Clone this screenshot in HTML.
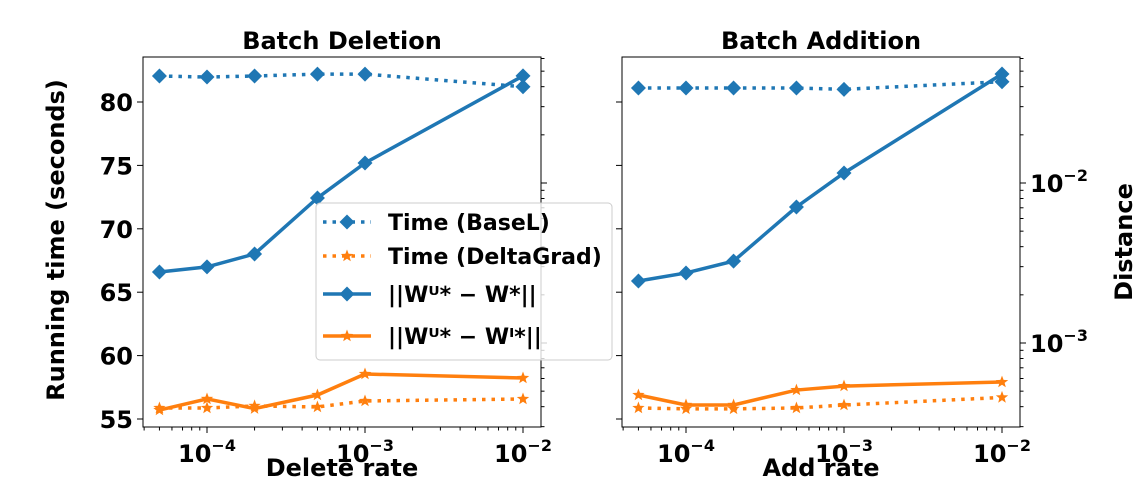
<!DOCTYPE html>
<html><head><meta charset="utf-8"><style>
body{margin:0;background:#fff;}
svg{font-family:"DejaVu Sans","Liberation Sans",sans-serif;font-weight:bold;}
</style></head><body>
<svg id="c" width="1133" height="480" viewBox="0 0 1133 480"></svg>
<script>
const rates=[5e-5,1e-4,2e-4,5e-4,1e-3,1e-2];
const delTimeBase=[82.05,81.97,82.05,82.2,82.2,81.2];
const delTimeDelta=[55.87,55.87,56.03,55.95,56.42,56.58];
const delDistU=[0.00278,0.00299,0.0036,0.00806,0.01334,0.0467];
const delDistI=[0.000381,0.000447,0.000389,0.000473,0.00064,0.000604];
const addTimeBase=[81.1,81.1,81.1,81.1,81.0,81.6];
const addTimeDelta=[55.87,55.8,55.8,55.87,56.1,56.7];
const addDistU=[0.00244,0.00274,0.00325,0.00708,0.01155,0.048];
const addDistI=[0.000473,0.00041,0.00041,0.000508,0.000538,0.00057];
const timeTicks=[55,60,65,70,75,80];
const distTicks=[0.001,0.01];
const xTicks=[1e-4,1e-3,1e-2];
const NS='http://www.w3.org/2000/svg';
const svg=document.getElementById('c');
function el(t,a,p){const e=document.createElementNS(NS,t);for(const k in a)e.setAttribute(k,a[k]);(p||svg).appendChild(e);return e;}
const Y0=57,Y1=427;
function yT(v){return 419-(v-55)*12.68;}
function yD(v){return 183-(Math.log10(v)+2)*160;}
const BLUE='#1f77b4',ORG='#ff7f0e';
function diamond(g,x,y,c){const e=el('path',{d:`M${x} ${y-7.5}L${x+7.5} ${y}L${x} ${y+7.5}L${x-7.5} ${y}Z`,fill:c},g);}
function star(g,x,y,c){let d='';for(let i=0;i<10;i++){const r=i%2?2.7:6.5,a=-Math.PI/2+i*Math.PI/5;d+=(i?'L':'M')+(x+r*Math.cos(a)).toFixed(1)+' '+(y+r*Math.sin(a)).toFixed(1);}const e=el('path',{d:d+'Z',fill:c},g);}
function series(g,name,xs,vals,yf,col,dash,mk){
  const s=el('g',{},g);
  const pts=vals.map((v,i)=>[xs(rates[i]),yf(v)]);
  el('polyline',{points:pts.map(p=>p.join(',')).join(' '),fill:'none',stroke:col,'stroke-width':3.5,'stroke-dasharray':dash||'none'},s);
  pts.forEach(p=>mk(s,p[0],p[1],col));
}
function panel(x0,x1,dec4,title,xlabel,tb,td,du,di,showLeft,showRight,pname){
  const g=el('g',{});
  const xs=v=>dec4+(Math.log10(v)+4)*158;
  el('rect',{x:x0,y:Y0,width:x1-x0,height:Y1-Y0,fill:'none',stroke:'#000','stroke-width':1},g);
  const t=el('text',{x:(x0+x1)/2,y:49,'text-anchor':'middle','font-size':24},g);t.textContent=title;
  const xl=el('text',{x:(x0+x1)/2,y:476,'text-anchor':'middle','font-size':24},g);xl.textContent=xlabel;
  xTicks.forEach(v=>{const x=xs(v);el('line',{x1:x,x2:x,y1:Y1,y2:Y1+6,stroke:'#000'},g);
    const tx=el('text',{x:x,y:462,'text-anchor':'middle','font-size':24},g);
    tx.textContent='10';const sp=el('tspan',{dy:-11,'font-size':16},tx);sp.textContent=String(Math.round(Math.log10(v))).replace('-','\u2212');});
  for(let d=-5;d<=-2;d++)for(let m=2;m<10;m++){const v=m*Math.pow(10,d);const x=xs(v);if(x>x0&&x<x1)el('line',{x1:x,x2:x,y1:Y1,y2:Y1+3.5,stroke:'#000'},g);}
  timeTicks.forEach(v=>{const y=yT(v);el('line',{x1:x0-6,x2:x0,y1:y,y2:y,stroke:'#000'},g);
    if(showLeft){const tx=el('text',{x:x0-10,y:y+9,'text-anchor':'end','font-size':24},g);tx.textContent=v;}});
  distTicks.forEach(v=>{const y=yD(v);el('line',{x1:x1,x2:x1+6,y1:y,y2:y,stroke:'#000'},g);
    if(showRight){const tx=el('text',{x:x1+10,y:y+9,'font-size':24},g);tx.textContent='10';const sp=el('tspan',{dy:-11,'font-size':16},tx);sp.textContent=String(Math.round(Math.log10(v))).replace('-','\u2212');}});
  for(let d=-4;d<=-1;d++)for(let m=2;m<10;m++){const y=yD(m*Math.pow(10,d));if(y>Y0&&y<Y1)el('line',{x1:x1,x2:x1+3.5,y1:y,y2:y,stroke:'#000'},g);}
  series(g,'time-basel-line',xs,tb,yT,BLUE,'3.5,6',diamond);
  series(g,'time-deltagrad-line',xs,td,yT,ORG,'3.5,6',star);
  series(g,'distance-wu-w-line',xs,du,yD,BLUE,null,diamond);
  series(g,'distance-wu-wi-line',xs,di,yD,ORG,null,star);
}
panel(143,541,207,'Batch Deletion','Delete rate',delTimeBase,delTimeDelta,delDistU,delDistI,true,false,'deletion-panel');
panel(622,1020,686,'Batch Addition','Add rate',addTimeBase,addTimeDelta,addDistU,addDistI,false,true,'addition-panel');
let yl=el('text',{x:0,y:0,transform:'translate(64,240) rotate(-90)','text-anchor':'middle','font-size':24});yl.textContent='Running time (seconds)';
let yr=el('text',{x:0,y:0,transform:'translate(1132,242) rotate(-90)','text-anchor':'middle','font-size':24});yr.textContent='Distance';
const lg=el('g',{});
el('rect',{x:316,y:203,width:296,height:157,rx:4,fill:'#fff','fill-opacity':0.8,stroke:'#ccc'},lg);
const items=[['Time (BaseL)',BLUE,'3.5,6',diamond,222],['Time (DeltaGrad)',ORG,'3.5,6',star,256],['||W\u1d41* \u2212 W*||',BLUE,null,diamond,294],['||W\u1d41* \u2212 W\u1d35*||',ORG,null,star,336]];
items.forEach(it=>{const e=el('g',{},lg);
  el('line',{x1:323,x2:371,y1:it[4],y2:it[4],stroke:it[1],'stroke-width':3.5,'stroke-dasharray':it[2]||'none'},e);it[3](e,347,it[4],it[1]);
  const t=el('text',{x:388,y:it[4]+8,'font-size':22},e);t.textContent=it[0];});
</script>
</body></html>
